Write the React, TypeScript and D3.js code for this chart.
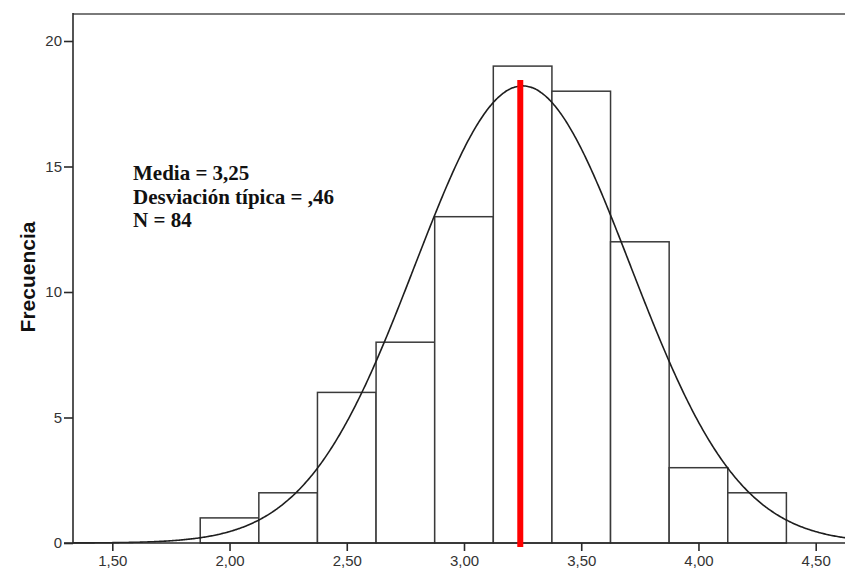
import React, { useRef, useEffect } from 'react';
import * as d3 from 'd3';

// histogram bins (lower edge, upper edge, count)
const binStarts = [1.875, 2.125, 2.375, 2.625, 2.875, 3.125, 3.375, 3.625, 3.875, 4.125];
const binWidth = 0.25;
const counts = [1, 2, 6, 8, 13, 19, 18, 12, 3, 2];

const xTicks = [1.5, 2.0, 2.5, 3.0, 3.5, 4.0, 4.5];
const yTicks = [0, 5, 10, 15, 20];

const mean = 3.25;
const sd = 0.46;
const n = 84;
const markerValue = 3.24; // red line
const statsLines = ['Media = 3,25', 'Desviación típica = ,46', 'N = 84'];

const W = 845, H = 572;

const App = () => {
    const svgref = useRef<SVGSVGElement>(null);

    useEffect(() => {
        const svg = d3.select(svgref.current);
        svg.selectAll('*').remove();

        const left = 73, top = 14, bottom = 543;
        const x = d3.scaleLinear().domain([1.5, 4.5]).range([112.3, 815.7]);
        const y = d3.scaleLinear().domain([0, 20]).range([bottom, 41]);

        // frame
        svg.append('line').attr('x1', left).attr('x2', W + 5).attr('y1', top).attr('y2', top)
            .attr('stroke', '#7a7a7a').attr('stroke-width', 2);

        // bars
        svg.append('g').selectAll('rect')
            .data(binStarts)
            .join('rect')
            .attr('x', d => x(d))
            .attr('width', d => x(d + binWidth) - x(d))
            .attr('y', (d, i) => y(counts[i]))
            .attr('height', (d, i) => bottom - y(counts[i]))
            .attr('fill', '#fff')
            .attr('stroke', '#3a3a3a')
            .attr('stroke-width', 1.5);

        // normal curve
        const x0 = x.invert(left), x1 = x.invert(W + 5);
        const pts = d3.range(x0, x1, 0.005).map(v => [v,
            n * binWidth * Math.exp(-0.5 * ((v - mean) / sd) ** 2) / (sd * Math.sqrt(2 * Math.PI))]);
        const line = d3.line<number[]>().x(d => x(d[0])).y(d => y(d[1])).curve(d3.curveBasis);
        svg.append('path').attr('d', line(pts)).attr('fill', 'none')
            .attr('stroke', '#1e1e1e').attr('stroke-width', 1.6);

        // axes
        const yAxis = svg.append('g').attr('transform', `translate(${left},0)`)
            .call(d3.axisLeft(y).tickValues(yTicks).tickSize(9).tickPadding(2).tickFormat(d3.format('d')));
        yAxis.select('.domain').remove();
        svg.append('line').attr('x1', left).attr('x2', left).attr('y1', top - 1).attr('y2', bottom)
            .attr('stroke', '#2a2a2a').attr('stroke-width', 1.6);

        const xAxis = svg.append('g').attr('transform', `translate(0,${bottom})`)
            .call(d3.axisBottom(x).tickValues(xTicks).tickSize(8).tickPadding(4)
                .tickFormat(d => d3.format('.2f')(d as number).replace('.', ',')));
        xAxis.select('.domain').remove();
        svg.append('line').attr('x1', left - 9).attr('x2', W + 5).attr('y1', bottom).attr('y2', bottom)
            .attr('stroke', '#2a2a2a').attr('stroke-width', 1.6);

        svg.selectAll('.tick line').attr('stroke', '#2a2a2a').attr('stroke-width', 1.6);
        svg.selectAll('.tick text').attr('fill', '#333')
            .style('font-family', 'Liberation Sans, Arial, sans-serif').style('font-size', '15px');

        // red marker
        svg.append('line').attr('x1', x(markerValue)).attr('x2', x(markerValue))
            .attr('y1', 80).attr('y2', bottom + 4)
            .attr('stroke', '#ff0000').attr('stroke-width', 6);

        // stats text
        svg.append('g').selectAll('text')
            .data(statsLines)
            .join('text')
            .attr('x', 133)
            .attr('y', (d, i) => 180 + i * 23.5)
            .text(d => d)
            .style('font-family', 'Liberation Serif, Times New Roman, serif')
            .style('font-weight', 'bold')
            .style('font-size', '21px')
            .attr('fill', '#111');

        // y label
        svg.append('text')
            .attr('transform', `translate(35,277) rotate(-90)`)
            .attr('text-anchor', 'middle')
            .text('Frecuencia')
            .style('font-family', 'Liberation Sans, Arial, sans-serif')
            .style('font-weight', 'bold')
            .style('font-size', '21px')
            .attr('fill', '#111');
    }, []);

    return (
        <div>
            <svg ref={svgref} width={W} height={H}
                style={{ position: 'absolute', left: 0, top: 0, background: '#fff' }}></svg>
        </div>
    );
};

export default App;
